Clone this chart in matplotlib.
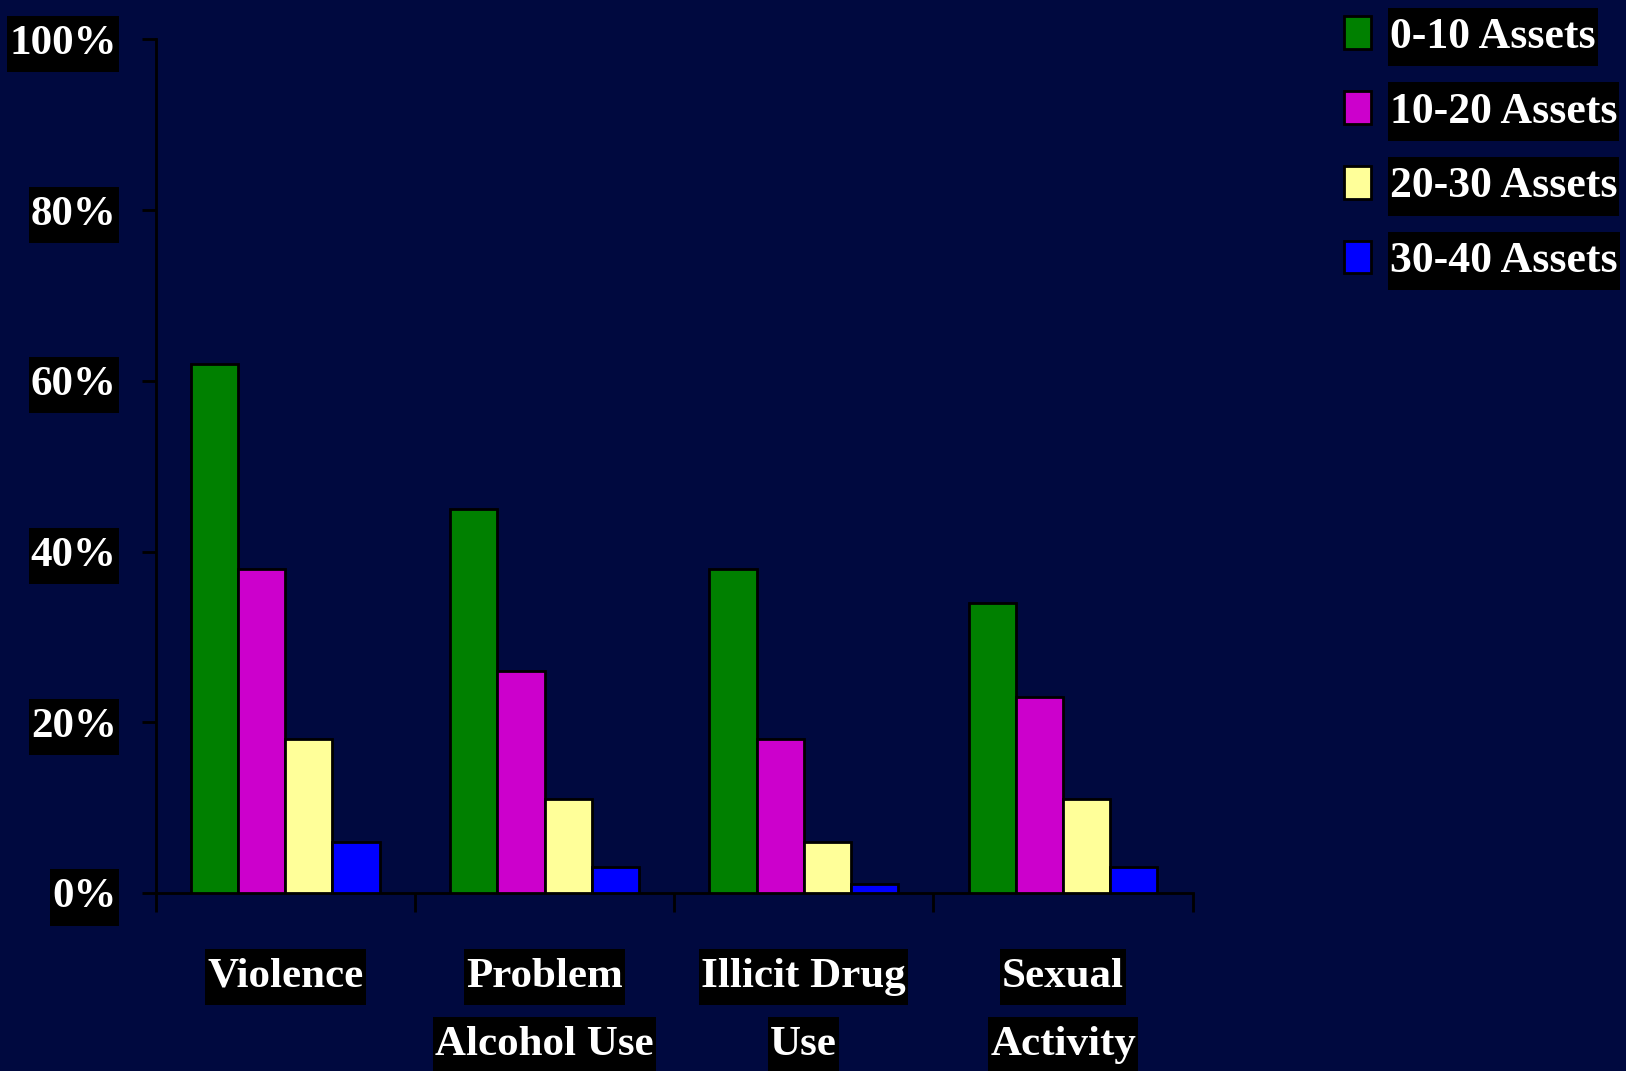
import numpy as np
import matplotlib.pyplot as plt
from matplotlib.path import Path

# data (percent)
categories = [["Violence"], ["Problem", "Alcohol Use"], ["Illicit Drug", "Use"], ["Sexual", "Activity"]]
series_names = ["0-10 Assets", "10-20 Assets", "20-30 Assets", "30-40 Assets"]
assets_0_10 = [62, 45, 38, 34]
assets_10_20 = [38, 26, 18, 23]
assets_20_30 = [18, 11, 6, 11]
assets_30_40 = [6, 3, 1, 3]
yticks = [0, 20, 40, 60, 80, 100]
ytick_labels = ["0%", "20%", "40%", "60%", "80%", "100%"]

series = [assets_0_10, assets_10_20, assets_20_30, assets_30_40]
colors = ["#008000", "#cc00cc", "#ffff99", "#0000ff"]
bg = "#00093f"
font = "Liberation Serif"


def tall_box(x0, y0, w, h, mutation_size):
    # black label box: little padding left/right, more top/bottom
    px = 0.05 * mutation_size
    py = 0.21 * mutation_size
    x0, y0, x1, y1 = x0 - px, y0 - py, x0 + w + px, y0 + h + py
    return Path([(x0, y0), (x1, y0), (x1, y1), (x0, y1), (x0, y0)], closed=True)


box = dict(boxstyle=tall_box, facecolor="black", edgecolor="none")

fig = plt.figure(figsize=(16.26, 10.71), dpi=100, facecolor=bg)
ax = fig.add_axes([0.0957, 0.1662, 0.6378, 0.797])
ax.set_facecolor(bg)

x = np.arange(len(categories)) + 0.5
width = 0.182
handles = []
for j, vals in enumerate(series):
    b = ax.bar(x + (j - 1.5) * width, vals, width, color=colors[j],
               edgecolor="black", linewidth=2, label=series_names[j], zorder=3)
    handles.append(b)

ax.set_xlim(0, len(categories))
ax.set_ylim(0, 100)

for s in ["top", "right"]:
    ax.spines[s].set_visible(False)
for s in ["left", "bottom"]:
    ax.spines[s].set_color("black")
    ax.spines[s].set_linewidth(2)

ax.set_xticks(np.arange(len(categories) + 1))
ax.set_xticklabels([])
ax.tick_params(axis="x", direction="out", length=14, width=2, color="black")
ax.set_yticks(yticks)
ax.set_yticklabels(ytick_labels)
ax.tick_params(axis="y", direction="out", length=10, width=2, color="black", pad=18)
for lbl in ax.get_yticklabels():
    lbl.set_fontfamily(font)
    lbl.set_fontweight("bold")
    lbl.set_fontsize(31)
    lbl.set_color("white")
    lbl.set_bbox(box)

# category labels, one black box per line
for i, lines in enumerate(categories):
    for k, line in enumerate(lines):
        ax.text(x[i], -0.098 - 0.08 * k, line, transform=ax.get_xaxis_transform(),
                ha="center", va="center", fontsize=31, fontweight="bold",
                family=font, color="white", bbox=box)

leg = fig.legend(handles=handles, labels=series_names, loc="upper left",
                 bbox_to_anchor=(0.824, 0.989), frameon=False,
                 prop={"family": font, "weight": "bold", "size": 31.5},
                 handlelength=0.62, handleheight=0.78, handletextpad=0.42,
                 labelspacing=0.78, borderpad=0.1, borderaxespad=0)
for t in leg.get_texts():
    t.set_color("white")
    t.set_bbox(box)

fig.savefig("out.png", dpi=100, facecolor=bg)
